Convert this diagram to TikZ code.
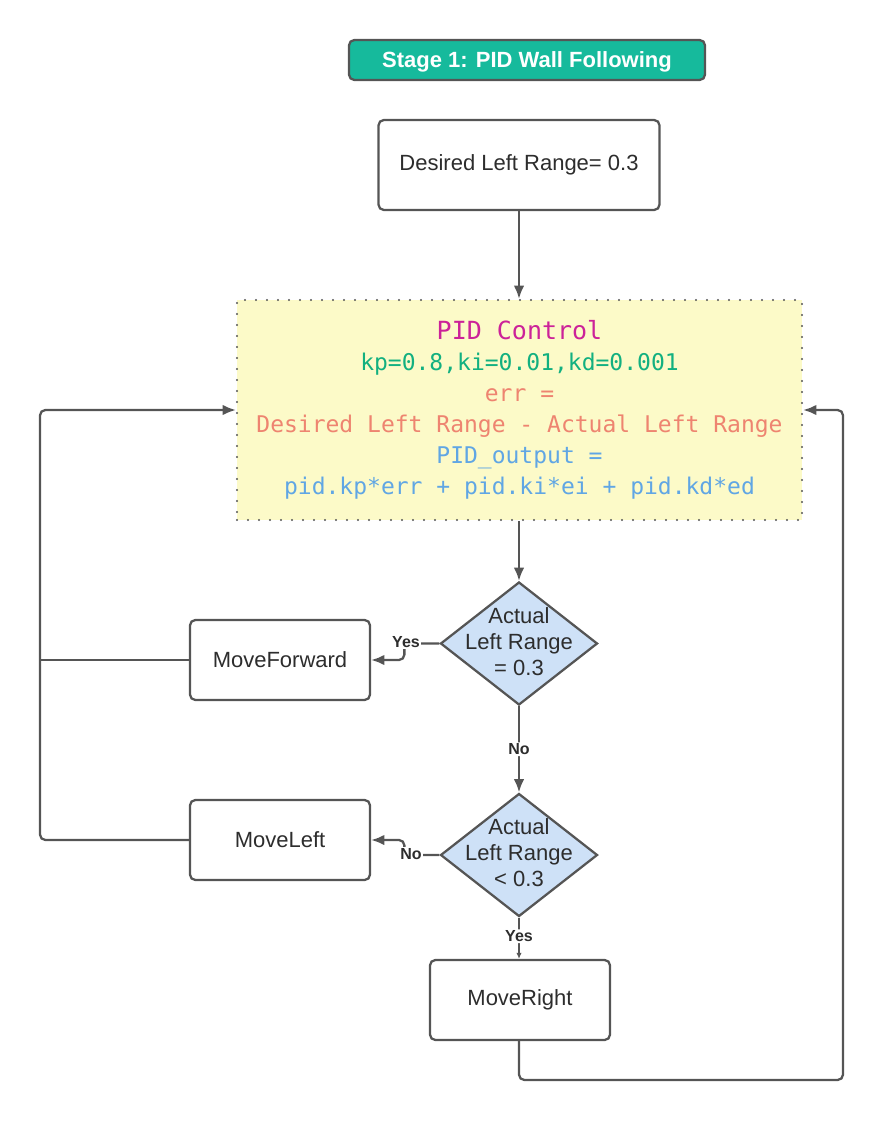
\documentclass[tikz,border=0pt]{standalone}
\usepackage{fontspec}
\setmainfont{Liberation Sans}
\setmonofont{DejaVu Sans Mono}
\usepackage{xcolor}
\usetikzlibrary{positioning,shapes.geometric,arrows.meta,calc}

\definecolor{teal1}{RGB}{22,186,156}
\definecolor{linegray}{RGB}{85,85,85}
\definecolor{txtgray}{RGB}{45,45,45}
\definecolor{pidyellow}{RGB}{252,250,200}
\definecolor{pidmagenta}{RGB}{204,34,153}
\definecolor{pidgreen}{RGB}{18,176,128}
\definecolor{pidsalmon}{RGB}{238,132,112}
\definecolor{pidblue}{RGB}{96,166,228}
\definecolor{decblue}{RGB}{206,225,247}

\tikzset{
  titlebox/.style={rectangle, rounded corners=4pt, draw=linegray, line width=1.7pt,
    fill=teal1, text=white, minimum width=267pt, minimum height=30pt,
    text height=12pt, text depth=1pt,
    font=\bfseries\fontsize{16.5}{19.5}\selectfont},
  procbox/.style={rectangle, rounded corners=4pt, draw=linegray, line width=1.7pt,
    fill=white, text=txtgray, minimum width=135pt, minimum height=60pt,
    font=\fontsize{16.5}{19.5}\selectfont},
  pidbox/.style={rectangle, draw=linegray, fill=pidyellow, line width=1.7pt,
    dash pattern=on 0pt off 8.25pt, line cap=round,
    minimum width=423.75pt, minimum height=165pt, align=center,
    font=\ttfamily\fontsize{17.25}{23.25}\selectfont},
  decision/.style={diamond, draw=linegray, fill=decblue, line width=1.7pt,
    minimum width=117.75pt, minimum height=92.25pt, inner sep=0pt},
  dtext/.style={align=center, text=txtgray, inner sep=0pt,
    font=\fontsize{16.5}{19.5}\selectfont},
  yn/.style={fill=white, text=txtgray, inner sep=1pt,
    font=\bfseries\fontsize{12}{14}\selectfont},
  conn/.style={draw=linegray, line width=1.7pt, rounded corners=4pt},
  arr/.style={conn, -{Latex[length=10pt,width=8pt]}},
  smallarr/.style={conn, -{Latex[length=4.5pt,width=4pt]}}
}

\begin{document}
\begin{tikzpicture}[x=0.75pt, y=-0.75pt]
\useasboundingbox (0,0) rectangle (885,1123);

%Nodes
\node[titlebox] (title) at (527,60) {Stage 1: PID Wall Following};
\node[procbox, minimum width=210.75pt, minimum height=67.5pt] (desired) at (519,165) {Desired Left Range= 0.3};

\node[pidbox] (pid) at (519.5,410) {%
  \textcolor{pidmagenta}{\fontsize{18.75}{23.25}\selectfont PID Control}\\
  \textcolor{pidgreen}{kp=0.8,ki=0.01,kd=0.001}\\
  \textcolor{pidsalmon}{err =}\\
  \textcolor{pidsalmon}{Desired Left Range - Actual Left Range}\\
  \textcolor{pidblue}{PID\_output =}\\
  \textcolor{pidblue}{pid.kp*err + pid.ki*ei + pid.kd*ed}};

\node[decision, label={[dtext, yshift=1.5pt]center:{Actual\\Left Range\\= 0.3}}] (dec1) at (519,643.5) {};
\node[decision, label={[dtext, yshift=1.5pt]center:{Actual\\Left Range\\< 0.3}}] (dec2) at (519,855) {};

\node[procbox] (fwd) at (280,660) {MoveForward};
\node[procbox] (left) at (280,840) {MoveLeft};
\node[procbox] (right) at (520,1000) {MoveRight};

\coordinate (lbus) at (40,840);
\coordinate (rbus) at (843,1080);

%Draw the edges
\draw[arr] (desired.south) -- (pid.north -| desired.south);
\draw[arr] (pid.south -| dec1.north) -- (dec1.north);

\draw[arr] (dec1.west) -- ++(-35,0) |- (fwd.east);
\node[yn] at (406,642) {Yes};

\draw[arr] (dec1.south) -- (dec2.north) node[yn, midway] {No};

\draw[arr] (dec2.west) -- ++(-35,0) |- (left.east);
\node[yn] at (411,854) {No};

\draw[smallarr] (dec2.south) -- (right.north -| dec2.south) node[yn, pos=0.45] {Yes};

%Feedback loops
\draw[arr] (left.west) -- (lbus) |- (pid.west);
\draw[conn] (fwd.west) -- (fwd.west -| lbus);
\draw[arr] (right.south -| dec2.south) |- (rbus) |- (pid.east);

\end{tikzpicture}
\end{document}
